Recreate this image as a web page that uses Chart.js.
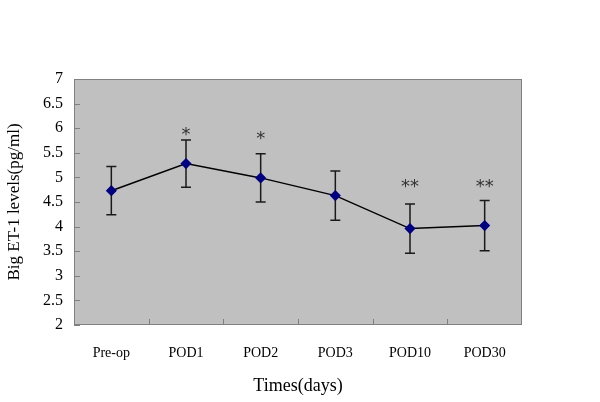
<!DOCTYPE html>
<html><head><meta charset="utf-8">
<script src="https://cdn.jsdelivr.net/npm/chart.js@4"></script>
<style>html,body{margin:0;padding:0;background:#fff}#wrap{width:600px;height:402px}</style>
</head><body><div id="wrap"><canvas id="c" width="600" height="402"></canvas></div>
<script>
const categories = ["Pre-op", "POD1", "POD2", "POD3", "POD10", "POD30"];
const meanValues = [4.73, 5.28, 4.99, 4.63, 3.96, 4.02];
const errorValues = [0.49, 0.48, 0.49, 0.50, 0.50, 0.51];
const significance = ["", "*", "*", "", "**", "**"];
const significanceLevel = [null, 5.92, 5.83, null, 4.85, 4.85];
const yTicks = [2, 2.5, 3, 3.5, 4, 4.5, 5, 5.5, 6, 6.5, 7];

const FONT = "'Liberation Serif', 'DejaVu Serif', serif";

const plotBg = {
  id: 'plotBg',
  beforeDraw(chart) {
    const {ctx, chartArea: a} = chart;
    ctx.save();
    ctx.fillStyle = '#c0c0c0';
    ctx.fillRect(a.left, a.top, a.right - a.left, a.bottom - a.top);
    ctx.restore();
  },
  afterDatasetsDraw(chart) {
    const {ctx, chartArea: a, scales} = chart;
    ctx.save();
    ctx.strokeStyle = '#808080';
    ctx.lineWidth = 1;
    ctx.strokeRect(a.left + 0.5, a.top + 0.5, a.right - a.left - 1, a.bottom - a.top - 1);
    yTicks.forEach(v => {
      const y = Math.round(scales.y.getPixelForValue(v)) + 0.5;
      ctx.beginPath(); ctx.moveTo(a.left, y); ctx.lineTo(a.left + 6, y); ctx.stroke();
    });
    for (let i = 1; i < categories.length; i++) {
      const x = Math.round((scales.x.getPixelForValue(i - 1) + scales.x.getPixelForValue(i)) / 2) + 0.5;
      ctx.beginPath(); ctx.moveTo(x, a.bottom); ctx.lineTo(x, a.bottom - 6); ctx.stroke();
    }
    ctx.restore();
  }
};

const errorBars = {
  id: 'errorBars',
  beforeDatasetsDraw(chart) {
    const {ctx, scales} = chart;
    ctx.save();
    ctx.strokeStyle = '#1a1a1a';
    ctx.lineWidth = 1.5;
    meanValues.forEach((m, i) => {
      const x = scales.x.getPixelForValue(i);
      const yT = scales.y.getPixelForValue(m + errorValues[i]);
      const yB = scales.y.getPixelForValue(m - errorValues[i]);
      ctx.beginPath();
      ctx.moveTo(x, yT); ctx.lineTo(x, yB);
      ctx.moveTo(x - 5, yT); ctx.lineTo(x + 5, yT);
      ctx.moveTo(x - 5, yB); ctx.lineTo(x + 5, yB);
      ctx.stroke();
      if (significance[i]) {
        ctx.fillStyle = '#333';
        ctx.font = "18px 'DejaVu Sans', sans-serif";
        ctx.textAlign = 'center';
        ctx.textBaseline = 'middle';
        ctx.fillText(significance[i], x, scales.y.getPixelForValue(significanceLevel[i]) + 3);
      }
    });
    ctx.restore();
  }
};

new Chart(document.getElementById('c'), {
  type: 'line',
  data: {
    labels: categories,
    datasets: [{
      data: meanValues,
      borderColor: '#000000',
      borderWidth: 1.5,
      pointStyle: 'rectRot',
      pointRadius: 4.5,
      pointBackgroundColor: '#000080',
      pointBorderColor: '#000080',
      tension: 0
    }]
  },
  options: {
    responsive: false,
    animation: false,
    layout: {padding: {left: 0, right: 78, top: 79, bottom: 0}},
    plugins: {legend: {display: false}, tooltip: {enabled: false}},
    scales: {
      x: {
        offset: true,
        grid: {display: false, drawTicks: false},
        border: {display: false},
        ticks: {color: '#000', font: {family: FONT, size: 14}, padding: 20, maxRotation: 0},
        title: {display: true, text: 'Times(days)', color: '#000', font: {family: FONT, size: 18}, padding: {top: 0, bottom: 5}},
        afterFit(s) { s.height = 77; }
      },
      y: {
        min: 2, max: 7,
        afterBuildTicks(s) { s.ticks = yTicks.map(v => ({value: v})); },
        grid: {display: false, drawTicks: false},
        border: {display: false},
        ticks: {color: '#000', font: {family: FONT, size: 16}, padding: 11, callback: v => String(v)},
        title: {display: true, text: 'Big ET-1 levels(pg/ml)', color: '#000', font: {family: FONT, size: 17}, padding: {bottom: 0, top: 4}},
        afterFit(s) { s.width = 74; }
      }
    }
  },
  plugins: [plotBg, errorBars]
});
</script>
</body></html>
